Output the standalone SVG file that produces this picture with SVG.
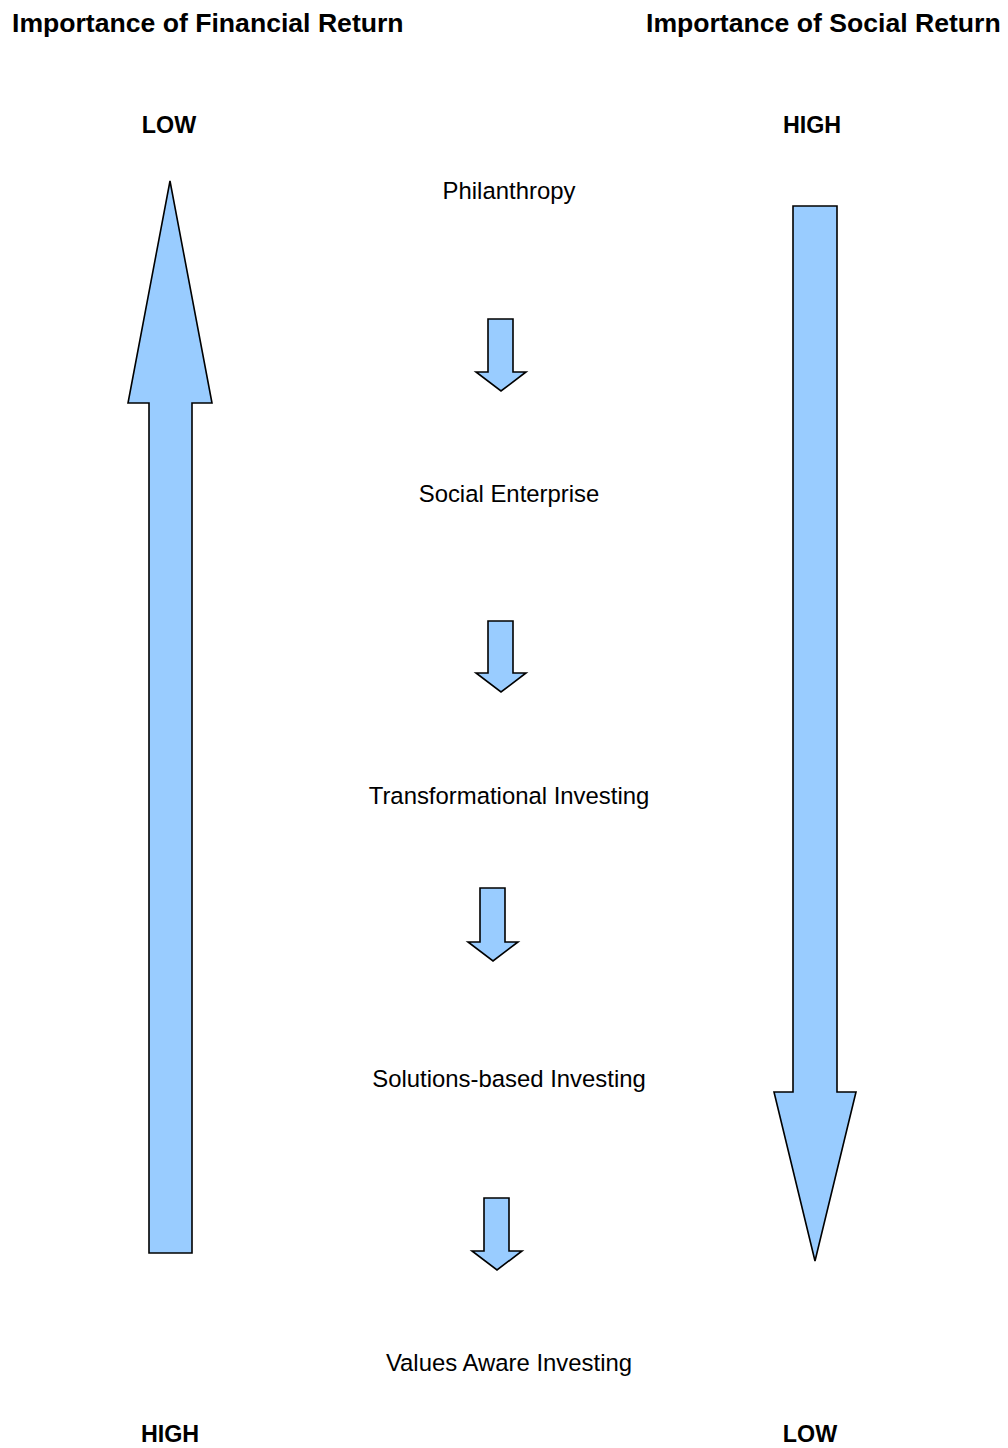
<svg xmlns="http://www.w3.org/2000/svg" width="1008" height="1448" viewBox="0 0 1008 1448">
<style>
.title{font-family:"Liberation Sans",Arial,sans-serif;font-weight:bold;font-size:26.6px;fill:#000}
.lvl{font-family:"Liberation Sans",Arial,sans-serif;font-weight:bold;font-size:23.3px;fill:#000;text-anchor:middle}
.lbl{font-family:"Liberation Sans",Arial,sans-serif;font-size:23.9px;fill:#000;text-anchor:middle}
.arr{fill:#99CCFF;stroke:#000;stroke-width:1.6;stroke-linejoin:miter}
</style>
<rect width="1008" height="1448" fill="#fff"/>
<g id="titles">
<text class="title" x="12" y="32">Importance of Financial Return</text>
<text class="title" x="646" y="32">Importance of Social Return</text>
</g>
<g id="levels">
<text class="lvl" x="169" y="133">LOW</text>
<text class="lvl" x="812" y="133">HIGH</text>
<text class="lvl" x="170" y="1442">HIGH</text>
<text class="lvl" x="810" y="1442">LOW</text>
</g>
<g id="financial-arrow">
<polygon class="arr" points="170,181 212,403 192,403 192,1253 149,1253 149,403 128,403"/>
</g>
<g id="social-arrow">
<polygon class="arr" points="793,206 837,206 837,1092 856,1092 815,1261 774,1092 793,1092"/>
</g>
<g id="philanthropy"><text class="lbl" x="509" y="199">Philanthropy</text></g>
<g id="social-enterprise"><text class="lbl" x="509" y="502">Social Enterprise</text></g>
<g id="transformational"><text class="lbl" x="509" y="804">Transformational Investing</text></g>
<g id="solutions"><text class="lbl" x="509" y="1087">Solutions-based Investing</text></g>
<g id="values"><text class="lbl" x="509" y="1371">Values Aware Investing</text></g>
<g id="connectors">
<polygon class="arr" points="488,319 513,319 513,372 526,372 501,391 476,372 488,372"/>
<polygon class="arr" points="488,621 513,621 513,673 526,673 501,692 476,673 488,673"/>
<polygon class="arr" points="480,888 505,888 505,942 518,942 493,961 468,942 480,942"/>
<polygon class="arr" points="484,1198 509,1198 509,1251 522,1251 497,1270 472,1251 484,1251"/>
</g>
</svg>
